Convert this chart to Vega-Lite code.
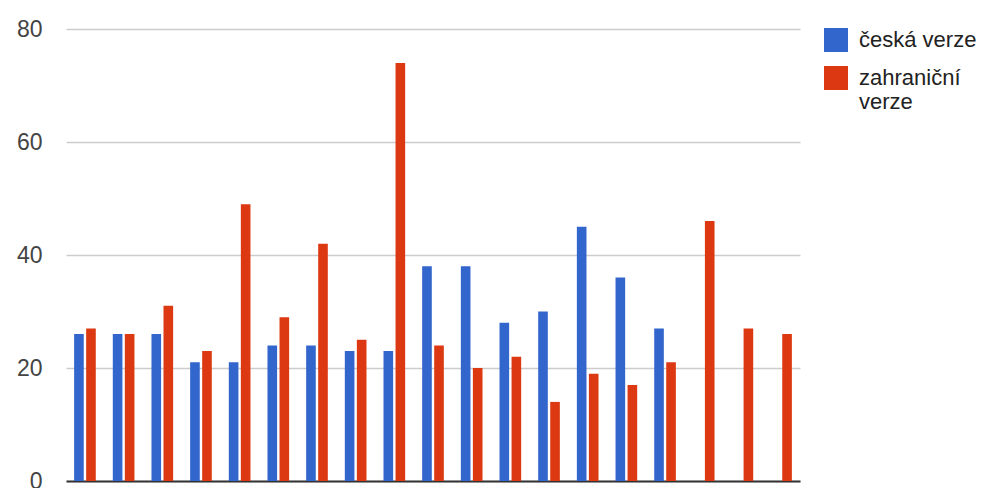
{
  "$schema": "https://vega.github.io/schema/vega-lite/v6.json",
  "autosize": "none",
  "width": 734,
  "height": 452,
  "padding": {"left": 66, "top": 29, "right": 189, "bottom": 7},
  "background": "white",
  "config": {
    "font": "Liberation Sans",
    "view": {"stroke": null}
  },
  "data": {
    "values": [
      {"skupina": 1, "verze": "česká verze", "hodnota": 26},
      {"skupina": 1, "verze": "zahraniční verze", "hodnota": 27},
      {"skupina": 2, "verze": "česká verze", "hodnota": 26},
      {"skupina": 2, "verze": "zahraniční verze", "hodnota": 26},
      {"skupina": 3, "verze": "česká verze", "hodnota": 26},
      {"skupina": 3, "verze": "zahraniční verze", "hodnota": 31},
      {"skupina": 4, "verze": "česká verze", "hodnota": 21},
      {"skupina": 4, "verze": "zahraniční verze", "hodnota": 23},
      {"skupina": 5, "verze": "česká verze", "hodnota": 21},
      {"skupina": 5, "verze": "zahraniční verze", "hodnota": 49},
      {"skupina": 6, "verze": "česká verze", "hodnota": 24},
      {"skupina": 6, "verze": "zahraniční verze", "hodnota": 29},
      {"skupina": 7, "verze": "česká verze", "hodnota": 24},
      {"skupina": 7, "verze": "zahraniční verze", "hodnota": 42},
      {"skupina": 8, "verze": "česká verze", "hodnota": 23},
      {"skupina": 8, "verze": "zahraniční verze", "hodnota": 25},
      {"skupina": 9, "verze": "česká verze", "hodnota": 23},
      {"skupina": 9, "verze": "zahraniční verze", "hodnota": 74},
      {"skupina": 10, "verze": "česká verze", "hodnota": 38},
      {"skupina": 10, "verze": "zahraniční verze", "hodnota": 24},
      {"skupina": 11, "verze": "česká verze", "hodnota": 38},
      {"skupina": 11, "verze": "zahraniční verze", "hodnota": 20},
      {"skupina": 12, "verze": "česká verze", "hodnota": 28},
      {"skupina": 12, "verze": "zahraniční verze", "hodnota": 22},
      {"skupina": 13, "verze": "česká verze", "hodnota": 30},
      {"skupina": 13, "verze": "zahraniční verze", "hodnota": 14},
      {"skupina": 14, "verze": "česká verze", "hodnota": 45},
      {"skupina": 14, "verze": "zahraniční verze", "hodnota": 19},
      {"skupina": 15, "verze": "česká verze", "hodnota": 36},
      {"skupina": 15, "verze": "zahraniční verze", "hodnota": 17},
      {"skupina": 16, "verze": "česká verze", "hodnota": 27},
      {"skupina": 16, "verze": "zahraniční verze", "hodnota": 21},
      {"skupina": 17, "verze": "zahraniční verze", "hodnota": 46},
      {"skupina": 18, "verze": "zahraniční verze", "hodnota": 27},
      {"skupina": 19, "verze": "zahraniční verze", "hodnota": 26}
    ]
  },
  "mark": {"type": "bar"},
  "encoding": {
    "x": {
      "field": "skupina",
      "type": "ordinal",
      "scale": {"paddingInner": 0.44, "paddingOuter": 0.21},
      "axis": {
        "title": null,
        "labels": false,
        "ticks": false,
        "domain": true,
        "domainColor": "#333333",
        "domainWidth": 2
      }
    },
    "xOffset": {
      "field": "verze",
      "type": "nominal",
      "scale": {"paddingInner": 0.2, "domain": ["česká verze", "zahraniční verze"]}
    },
    "y": {
      "field": "hodnota",
      "type": "quantitative",
      "scale": {"domain": [0, 80], "nice": false},
      "axis": {
        "title": null,
        "values": [0, 20, 40, 60, 80],
        "domain": false,
        "ticks": false,
        "labelPadding": 24,
        "labelFontSize": 23,
        "labelColor": "#444444",
        "gridColor": "#cccccc",
        "gridWidth": 1.5
      }
    },
    "color": {
      "field": "verze",
      "type": "nominal",
      "scale": {
        "domain": ["česká verze", "zahraniční verze"],
        "range": ["#3366cc", "#dc3912"]
      },
      "legend": {
        "title": null,
        "orient": "none",
        "legendX": 758,
        "legendY": -1,
        "symbolType": "square",
        "symbolSize": 576,
        "symbolStrokeWidth": 0,
        "labelFontSize": 22,
        "labelColor": "#222222",
        "labelOffset": 11,
        "rowPadding": 14,
        "labelExpr": "datum.label == 'zahraniční verze' ? ['zahraniční', 'verze'] : datum.label",
        "labelBaseline": "middle",
        "labelLimit": 200
      }
    }
  }
}
